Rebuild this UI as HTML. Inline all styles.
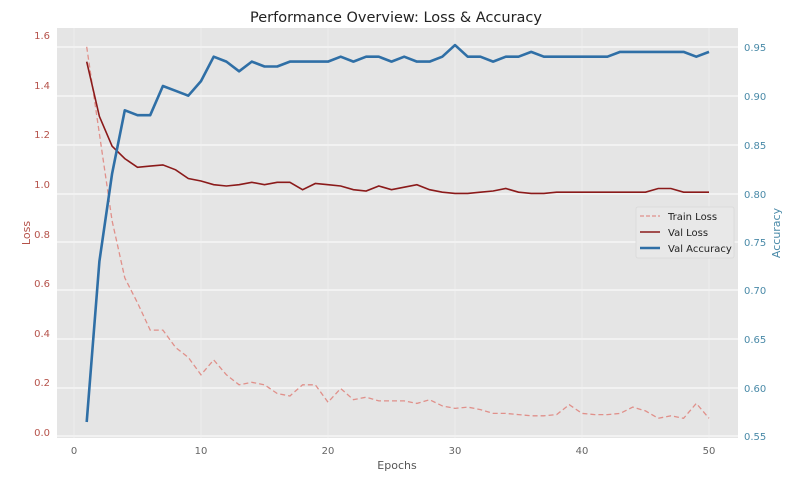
<!DOCTYPE html>
<html><head><meta charset="utf-8"><style>
html,body{margin:0;padding:0;background:#fff;}
svg{display:block;font-family:"DejaVu Sans","Liberation Sans",sans-serif;}
</style></head><body>
<svg id="s" width="793" height="479" viewBox="0 0 793 479" xmlns="http://www.w3.org/2000/svg">
<rect x="0" y="0" width="793" height="479" fill="#fff"/>
<rect x="57" y="28" width="681" height="410" fill="#e5e5e5"/>
<g stroke="#fff" stroke-width="1">
<line x1="57" x2="738" y1="47" y2="47"/><line x1="57" x2="738" y1="96" y2="96"/>
<line x1="57" x2="738" y1="145" y2="145"/><line x1="57" x2="738" y1="194" y2="194"/>
<line x1="57" x2="738" y1="242" y2="242"/><line x1="57" x2="738" y1="290" y2="290"/>
<line x1="57" x2="738" y1="339" y2="339"/><line x1="57" x2="738" y1="388" y2="388"/>
<line x1="57" x2="738" y1="436" y2="436"/>
</g>
<g stroke="#f2f2f2" stroke-width="0.6">
<line x1="74" x2="74" y1="28" y2="438"/><line x1="201" x2="201" y1="28" y2="438"/>
<line x1="328" x2="328" y1="28" y2="438"/><line x1="455" x2="455" y1="28" y2="438"/>
<line x1="582" x2="582" y1="28" y2="438"/><line x1="709" x2="709" y1="28" y2="438"/>
</g>
<g id="lines"></g>
<text x="396" y="22" font-size="14.5" text-anchor="middle" fill="#222">Performance Overview: Loss &amp; Accuracy</text>
<g font-size="10" fill="#b5524a" text-anchor="end">
<text x="50" y="39">1.6</text><text x="50" y="89">1.4</text><text x="50" y="138">1.2</text>
<text x="50" y="188">1.0</text><text x="50" y="238">0.8</text><text x="50" y="287">0.6</text>
<text x="50" y="337">0.4</text><text x="50" y="386">0.2</text><text x="50" y="436">0.0</text>
</g>
<g font-size="10" fill="#4a8aa8">
<text x="744" y="51">0.95</text><text x="744" y="100">0.90</text><text x="744" y="149">0.85</text>
<text x="744" y="198">0.80</text><text x="744" y="246">0.75</text><text x="744" y="294">0.70</text>
<text x="744" y="343">0.65</text><text x="744" y="392">0.60</text><text x="744" y="440">0.55</text>
</g>
<g font-size="10" fill="#666" text-anchor="middle">
<text x="74" y="454">0</text><text x="201" y="454">10</text><text x="328" y="454">20</text>
<text x="455" y="454">30</text><text x="582" y="454">40</text><text x="709" y="454">50</text>
</g>
<text x="397" y="469" font-size="11" text-anchor="middle" fill="#555">Epochs</text>
<text transform="translate(30,233) rotate(-90)" font-size="11" text-anchor="middle" fill="#b5524a">Loss</text>
<text transform="translate(780,233) rotate(-90)" font-size="11" text-anchor="middle" fill="#4a8aa8">Accuracy</text>
<rect x="636" y="207" width="98" height="51" fill="#e8e8e8" stroke="#d8d8d8" stroke-width="0.8" rx="2"/>
<line x1="640" x2="660" y1="216" y2="216" stroke="#e0908a" stroke-width="1.3" stroke-dasharray="4,2"/>
<line x1="640" x2="660" y1="232" y2="232" stroke="#8b1a1a" stroke-width="1.6"/>
<line x1="640" x2="660" y1="248" y2="248" stroke="#2f6fa6" stroke-width="2.5"/>
<g font-size="10" fill="#222"><text x="668" y="220">Train Loss</text><text x="668" y="236">Val Loss</text><text x="668" y="252">Val Accuracy</text></g>
</svg>
<script>
var tl=[1.55,1.20,0.85,0.62,0.52,0.41,0.41,0.34,0.30,0.23,0.29,0.23,0.19,0.20,0.19,0.155,0.145,0.19,0.19,0.12,0.175,0.13,0.14,0.125,0.125,0.125,0.115,0.13,0.105,0.095,0.10,0.09,0.075,0.075,0.07,0.065,0.065,0.07,0.11,0.075,0.07,0.07,0.075,0.10,0.085,0.055,0.065,0.055,0.115,0.055];
var vl=[1.49,1.27,1.15,1.10,1.065,1.07,1.075,1.055,1.02,1.01,0.995,0.99,0.995,1.005,0.995,1.005,1.005,0.975,1.0,0.995,0.99,0.975,0.97,0.99,0.975,0.985,0.995,0.975,0.965,0.96,0.96,0.965,0.97,0.98,0.965,0.96,0.96,0.965,0.965,0.965,0.965,0.965,0.965,0.965,0.965,0.98,0.98,0.965,0.965,0.965];
var va=[0.565,0.73,0.82,0.885,0.88,0.88,0.91,0.905,0.90,0.915,0.94,0.935,0.925,0.935,0.93,0.93,0.935,0.935,0.935,0.935,0.94,0.935,0.94,0.94,0.935,0.94,0.935,0.935,0.94,0.952,0.94,0.94,0.935,0.94,0.94,0.945,0.94,0.94,0.94,0.94,0.94,0.94,0.945,0.945,0.945,0.945,0.945,0.945,0.94,0.945];
function X(i){return 74+(i+1)*12.7;}
function pts(a,f){return a.map(function(v,i){return X(i).toFixed(1)+","+f(v).toFixed(1)}).join(" ");}
var L=function(v){return 432-v*248.5}, A=function(v){return 47+(0.95-v)*974};
var g=document.getElementById("lines");
g.innerHTML='<polyline fill="none" stroke="#e0908a" stroke-width="1.3" stroke-dasharray="5,3" points="'+pts(tl,L)+'"/>'+
'<polyline fill="none" stroke="#8b1a1a" stroke-width="1.6" points="'+pts(vl,L)+'"/>'+
'<polyline fill="none" stroke="#2f6fa6" stroke-width="2.6" stroke-linejoin="round" points="'+pts(va,A)+'"/>';
</script>
</body></html>
